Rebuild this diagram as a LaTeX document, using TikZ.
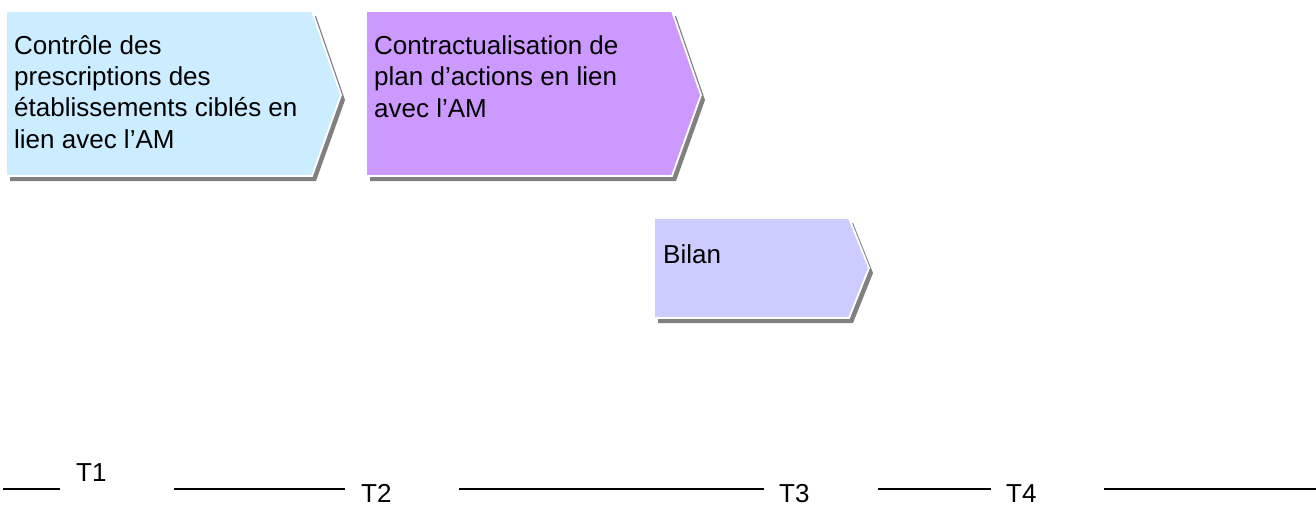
\documentclass[tikz,border=0pt]{standalone}
\usepackage{fontspec}
\setmainfont{Liberation Sans}
\definecolor{boxblue}{HTML}{CCECFF}
\definecolor{boxpurple}{HTML}{CC99FF}
\definecolor{boxlilac}{HTML}{CCCCFF}
\definecolor{shadowgray}{HTML}{808080}
\begin{document}
\begin{tikzpicture}[x=1pt,y=-1pt,
  chevron/.style={draw=white,line width=1.8pt,line join=miter},
  boxtext/.style={anchor=base west,align=left,inner sep=0pt,font=\fontsize{26}{31.3}\selectfont},
  tlabel/.style={anchor=base west,inner sep=0pt,font=\fontsize{26}{31}\selectfont},
  tline/.style={line width=2pt,black}]
\useasboundingbox (0,0) rectangle (1316,509);
% box 1
\fill[shadowgray] (10,16) -- (316,16) -- (345,100) -- (316,181) -- (10,181) -- cycle;
\filldraw[chevron,fill=boxblue] (6,11) -- (312,11) -- (341,95) -- (312,176) -- (6,176) -- cycle;
\node[boxtext] (b1) at (14,148) {Contrôle des\\prescriptions des\\établissements ciblés en\\lien avec l’AM};
% box 2
\fill[shadowgray] (370,16) -- (676,16) -- (705,100) -- (676,181) -- (370,181) -- cycle;
\filldraw[chevron,fill=boxpurple] (366,11) -- (672,11) -- (701,95) -- (672,176) -- (366,176) -- cycle;
\node[boxtext] (b2) at (374,117) {Contractualisation de\\plan d’actions en lien\\avec l’AM};
% box 3
\fill[shadowgray] (658,223) -- (853,223) -- (873,273) -- (853,323) -- (658,323) -- cycle;
\filldraw[chevron,fill=boxlilac] (654,218) -- (849,218) -- (869,268) -- (849,318) -- (654,318) -- cycle;
\node[boxtext] (b3) at (663,263) {Bilan};
% timeline
\draw[tline] (3,489) -- (60,489);
\draw[tline] (174,489) -- (345,489);
\draw[tline] (459,489) -- (764,489);
\draw[tline] (878,489) -- (991,489);
\draw[tline] (1104,489) -- (1316,489);
\node[tlabel] (t1) at (76,481) {T1};
\node[tlabel] (t2) at (361,502) {T2};
\node[tlabel] (t3) at (779,502) {T3};
\node[tlabel] (t4) at (1006,502) {T4};
\end{tikzpicture}
\end{document}
